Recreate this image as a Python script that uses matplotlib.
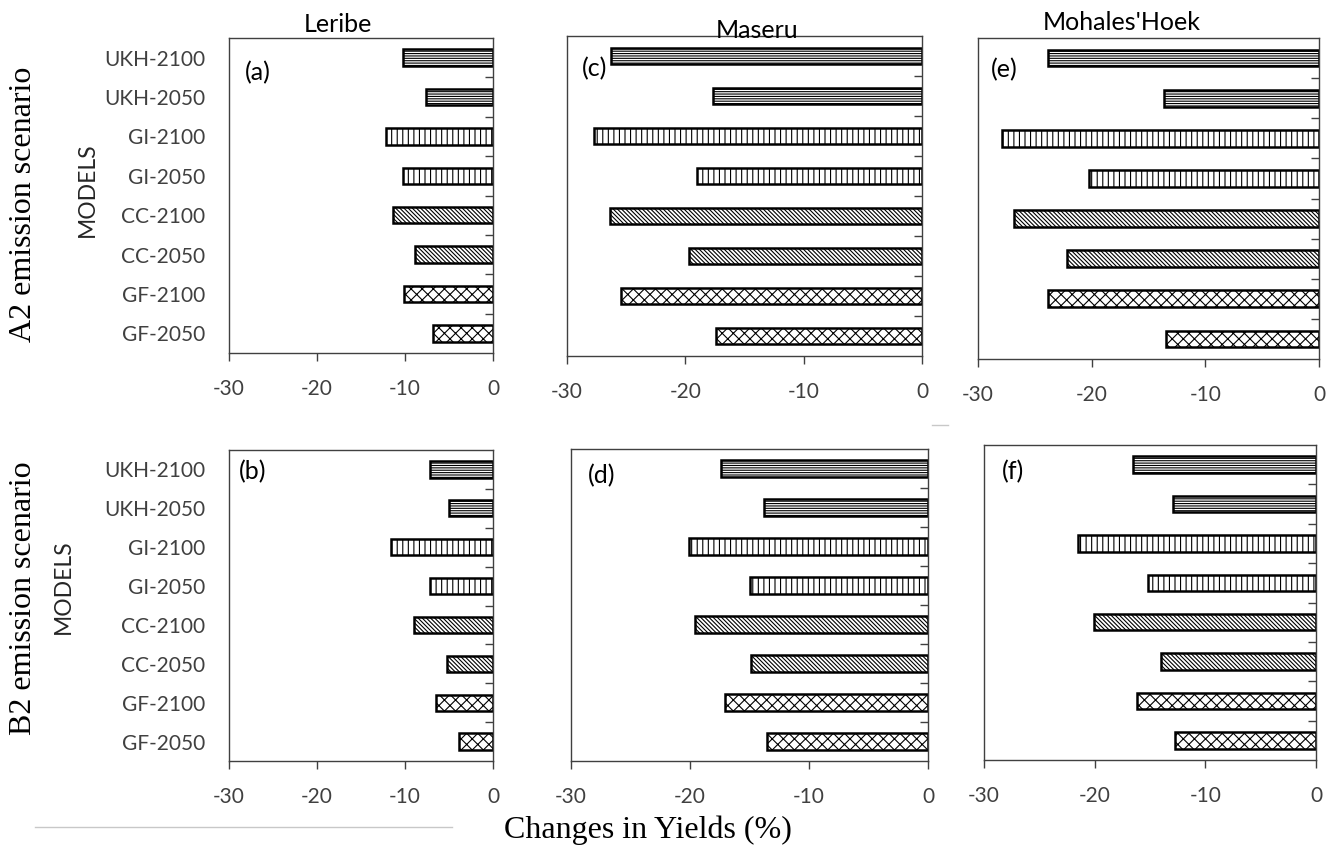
import matplotlib
matplotlib.use('Agg')
import matplotlib.pyplot as plt
import numpy as np
from matplotlib.ticker import FixedLocator

# --- data: yield change (%) per model run ---
models = ['UKH-2100', 'UKH-2050', 'GI-2100', 'GI-2050',
          'CC-2100', 'CC-2050', 'GF-2100', 'GF-2050']
leribe_a2 = [-10.2, -7.6, -12.2, -10.2, -11.4, -8.9, -10.1, -6.8]
maseru_a2 = [-26.3, -17.7, -27.7, -19.0, -26.4, -19.7, -25.4, -17.4]
mohale_a2 = [-23.8, -13.6, -27.9, -20.2, -26.8, -22.2, -23.8, -13.5]
leribe_b2 = [-7.2, -5.0, -11.6, -7.2, -9.0, -5.2, -6.5, -3.9]
maseru_b2 = [-17.4, -13.8, -20.1, -15.0, -19.6, -14.9, -17.1, -13.5]
mohale_b2 = [-16.5, -12.9, -21.5, -15.2, -20.1, -14.0, -16.2, -12.7]
xticks = [-30, -20, -10, 0]
districts = ['Leribe', 'Maseru', "Mohales'Hoek"]

# hatch per GCM
HATCH = {'UKH': '-------', 'GI': '|||', 'CC': '\\' * 8, 'GF': 'xxx'}

W, H = 1336, 850
SANS = 'Lato'
SERIF = 'Liberation Serif'
GREY_TXT = '#404040'

plt.rcParams['hatch.linewidth'] = 0.8

fig = plt.figure(figsize=(W / 100, H / 100), dpi=100)


def box(l, t, r, b):
    # pixel box -> figure fraction rect
    return [l / W, 1 - b / H, (r - l) / W, (b - t) / H]


def px(x, y):
    return x / W, 1 - y / H


def draw_panel(rect, values, tag, tag_xy, show_labels):
    ax = fig.add_axes(rect)
    n = len(models)
    ypos = np.arange(n)[::-1]
    for y, m, v in zip(ypos, models, values):
        ax.barh(y, v, height=0.42, color='white', edgecolor='black',
                linewidth=1.8, hatch=HATCH[m.split('-')[0]])
    ax.set_xlim(-30, 0)
    ax.set_ylim(-0.5, n - 0.5)
    ax.set_xticks(xticks)
    ax.set_xticklabels([str(t) for t in xticks], fontfamily=SANS,
                       fontsize=15, color=GREY_TXT)
    ax.tick_params(axis='x', direction='out', length=6, width=1,
                   color=GREY_TXT, pad=13)
    ax.set_yticks(ypos)
    if show_labels:
        ax.set_yticklabels(models, fontfamily=SANS, fontsize=15,
                           color=GREY_TXT)
    else:
        ax.set_yticklabels([])
    ax.tick_params(axis='y', which='major', length=0, pad=17)
    # separators between categories on the zero line
    ax.yaxis.set_minor_locator(FixedLocator(np.arange(0.5, n - 1, 1.0)))
    ax.tick_params(axis='y', which='minor', left=False, right=True,
                   direction='in', length=6, width=1, color=GREY_TXT)
    for s in ax.spines.values():
        s.set_color(GREY_TXT)
        s.set_linewidth(1)
    fig.text(*px(*tag_xy), tag, fontfamily=SANS, fontsize=18,
             color='black', va='center', ha='left')
    return ax


# top row: A2, bottom row: B2
draw_panel(box(229, 38, 493, 353), leribe_a2, '(a)', (245, 73), True)
draw_panel(box(567, 36, 922, 356), maseru_a2, '(c)', (582, 69), False)
draw_panel(box(978, 38, 1319, 359), mohale_a2, '(e)', (991, 70), False)
draw_panel(box(229, 450, 493, 761), leribe_b2, '(b)', (239, 472), True)
draw_panel(box(571, 449, 928, 761), maseru_b2, '(d)', (588, 476), False)
draw_panel(box(984, 445, 1316, 760), mohale_b2, '(f)', (1002, 472), False)

# district names
for name, (x, y) in zip(districts, [(338, 24), (757, 30), (1122, 22)]):
    fig.text(*px(x, y), name, fontfamily=SANS, fontsize=18,
             color='black', ha='center', va='center')

# scenario and axis titles
fig.text(*px(24, 204), 'A2 emission scenario', fontfamily=SERIF,
         fontsize=23, rotation=90, ha='center', va='center')
fig.text(*px(24, 598), 'B2 emission scenario', fontfamily=SERIF,
         fontsize=23, rotation=90, ha='center', va='center')
fig.text(*px(87, 190), 'MODELS', fontfamily=SANS, fontsize=16.5,
         color='#262626', rotation=90, ha='center', va='center')
fig.text(*px(63, 587), 'MODELS', fontfamily=SANS, fontsize=16.5,
         color='#262626', rotation=90, ha='center', va='center')
fig.text(*px(648, 830), 'Changes in Yields (%)', fontfamily=SERIF,
         fontsize=23, ha='center', va='center')

# thin rule under the left panels
fig.add_artist(plt.Line2D([35 / W, 452 / W], [1 - 827 / H, 1 - 827 / H],
                          color='#c8c8c8', linewidth=1))
fig.add_artist(plt.Line2D([932 / W, 948 / W], [1 - 425 / H, 1 - 425 / H],
                          color='#c8c8c8', linewidth=1))

fig.savefig('out.png', dpi=100)
